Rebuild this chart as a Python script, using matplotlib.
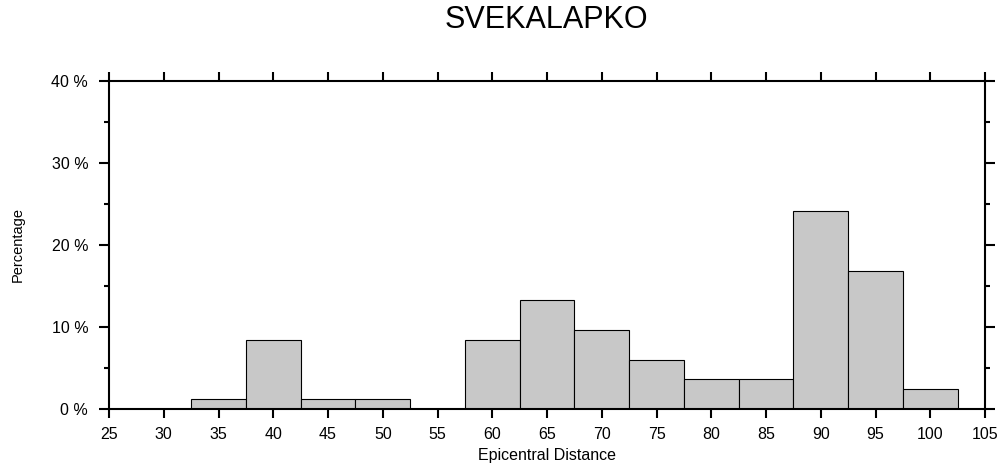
import matplotlib.pyplot as plt
from matplotlib.ticker import MultipleLocator, FuncFormatter

# bin centres (degrees) and share of events per bin (%)
centers = [35, 40, 45, 50, 60, 65, 70, 75, 80, 85, 90, 95, 100]
percent = [1.2, 8.43, 1.2, 1.2, 8.43, 13.25, 9.64, 6.02, 3.61, 3.61, 24.1, 16.87, 2.41]
bin_width = 5

plt.rcParams['font.family'] = ['Liberation Sans', 'DejaVu Sans']

fig = plt.figure(figsize=(10.02, 4.65), dpi=100)
ax = fig.add_axes([0.1088, 0.1204, 0.8743, 0.7054])

ax.bar(centers, percent, width=bin_width, color='#c8c8c8',
       edgecolor='black', linewidth=0.8, zorder=2)

ax.set_xlim(25, 105)
ax.set_ylim(0, 40)
ax.xaxis.set_major_locator(MultipleLocator(5))
ax.yaxis.set_major_locator(MultipleLocator(10))
ax.yaxis.set_minor_locator(MultipleLocator(5))
ax.yaxis.set_major_formatter(FuncFormatter(lambda v, p: f'{int(v)} %'))

for s in ax.spines.values():
    s.set_linewidth(1.5)
ax.tick_params(which='both', direction='out', top=True, right=True,
               labeltop=False, labelright=False, width=1.5, labelsize=11.5)
ax.tick_params(which='major', length=7)
ax.tick_params(which='minor', length=3.5)
ax.tick_params(axis='x', which='major', length=6.5, pad=6.5)
ax.tick_params(axis='y', which='major', pad=8)

# x label sits just under the tick labels, baseline placed in axes units
ax.set_xlabel('Epicentral Distance', fontsize=11.5)
ax.xaxis.set_label_coords(0.5, -0.156)
ax.xaxis.label.set_va('baseline')

fig.text(17.5 / 1002, 1 - 245 / 465, 'Percentage', rotation=90,
         ha='center', va='center', fontsize=10.5)
fig.text(0.5454, 0.957, 'SVEKALAPKO', ha='center', va='center', fontsize=22)

fig.savefig('out.png', dpi=100)
